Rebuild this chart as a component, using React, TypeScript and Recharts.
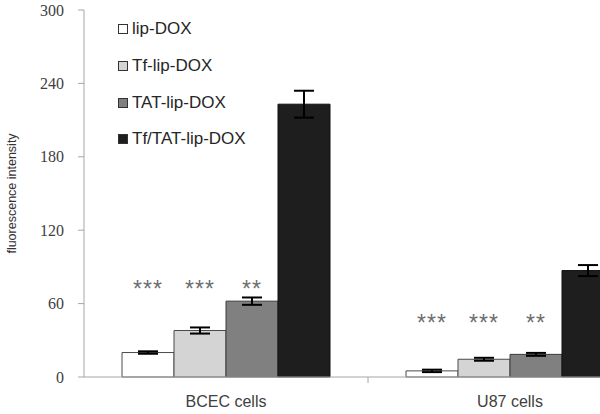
import React from "react";
import { BarChart, Bar, XAxis, YAxis, ErrorBar, Legend, LabelList } from "recharts";

const categories = ["BCEC cells", "U87 cells"];
const lipDox = [20, 5];
const lipDoxErr = [1, 1];
const tfLipDox = [38, 14.5];
const tfLipDoxErr = [2.5, 1.2];
const tatLipDox = [62, 18.5];
const tatLipDoxErr = [3, 1.2];
const tfTatLipDox = [223, 87];
const tfTatLipDoxErr = [11, 4.5];
const sigLipDox = ["***", "***"];
const sigTfLipDox = ["***", "***"];
const sigTatLipDox = ["**", "**"];
const sigTfTatLipDox = ["", ""];
const sigLevel = [74, 47];
const yTicks = [0, 60, 120, 180, 240, 300];

const data = categories.map((c, i) => ({
  name: c,
  lip: lipDox[i],
  lipErr: lipDoxErr[i],
  tf: tfLipDox[i],
  tfErr: tfLipDoxErr[i],
  tat: tatLipDox[i],
  tatErr: tatLipDoxErr[i],
  tftat: tfTatLipDox[i],
  tftatErr: tfTatLipDoxErr[i],
}));

const series = [
  { key: "lip", name: "lip-DOX", fill: "#ffffff", stroke: "#4a4a4a", sig: sigLipDox },
  { key: "tf", name: "Tf-lip-DOX", fill: "#d4d4d4", stroke: "#4a4a4a", sig: sigTfLipDox },
  { key: "tat", name: "TAT-lip-DOX", fill: "#808080", stroke: "#3a3a3a", sig: sigTatLipDox },
  { key: "tftat", name: "Tf/TAT-lip-DOX", fill: "#1e1e1e", stroke: "#111111", sig: sigTfTatLipDox },
];

const makeStar = (sig: string[]) => (props: any) => {
  const { x, y, width, height, value, index } = props;
  const i = typeof index === "number" ? index : 0;
  const text = sig[i];
  if (!text || !value) return null;
  const pxPerUnit = Number(height) / Number(value);
  const baseline = Number(y) + Number(height);
  const sy = baseline - sigLevel[i] * pxPerUnit;
  return (
    <text
      x={Number(x) + Number(width) / 2}
      y={sy + 3}
      textAnchor="middle"
      dominantBaseline="central"
      fontFamily="Liberation Sans, Arial, sans-serif"
      fontSize={23}
      letterSpacing={1}
      fill="#6e6e6e"
    >
      {text}
    </text>
  );
};

const XTick = (props: any) => {
  const { x, y, payload } = props;
  const off = payload && typeof payload.offset === "number" ? payload.offset : 142;
  return (
    <g>
      <line x1={x + off} y1={y - 8} x2={x + off} y2={y - 2} stroke="#a6a6a6" />
      <text
        x={x}
        y={y + 22}
        textAnchor="middle"
        fontFamily="Liberation Sans, Arial, sans-serif"
        fontSize={16}
        fill="#404040"
      >
        {payload.value}
      </text>
    </g>
  );
};

const LegendContent = () => (
  <div style={{ position: "absolute", left: 0, top: 0, width: 220 }}>
    {series.map((s) => (
      <div
        key={s.key}
        style={{
          display: "flex",
          alignItems: "center",
          height: 36.7,
          fontFamily: "Liberation Sans, Arial, sans-serif",
          fontSize: 17,
          color: "#262626",
          whiteSpace: "nowrap",
        }}
      >
        <span
          style={{
            display: "inline-block",
            width: 8,
            height: 8,
            background: s.fill,
            border: "1px solid #333",
            marginRight: 4,
          }}
        />
        {s.name}
      </div>
    ))}
  </div>
);

export default function App() {
  return (
    <div style={{ position: "absolute", left: 0, top: 0, width: 600, height: 414, overflow: "hidden", background: "#fff" }}>
      <BarChart
        width={660}
        height={414}
        data={data}
        margin={{ top: 10, right: 8, left: 0, bottom: 0 }}
        barGap={0}
        barCategoryGap={38}
      >
        <XAxis
          dataKey="name"
          height={37}
          axisLine={{ stroke: "#a6a6a6" }}
          tickLine={false}
          tick={<XTick />}
          interval={0}
        />
        <YAxis
          width={84}
          domain={[0, 300]}
          ticks={yTicks}
          interval={0}
          axisLine={{ stroke: "#a6a6a6" }}
          tickLine={{ stroke: "#a6a6a6" }}
          tickSize={6}
          tickMargin={14}
          tick={{ fontFamily: "Liberation Serif, Times New Roman, serif", fontSize: 16, fill: "#404040" }}
          label={{
            value: "fluorescence intensity",
            angle: -90,
            position: "insideLeft",
            offset: 12,
            style: { textAnchor: "middle", fontFamily: "Liberation Sans, Arial, sans-serif", fontSize: 12.5, fill: "#333" },
          }}
        />
        <Legend
          layout="vertical"
          align="left"
          verticalAlign="top"
          content={<LegendContent />}
          wrapperStyle={{ position: "absolute", left: 118, top: 11, width: 0, height: 0, overflow: "visible" }}
        />
        {series.map((s) => (
          <Bar
            key={s.key}
            dataKey={s.key}
            name={s.name}
            fill={s.fill}
            stroke={s.stroke}
            strokeWidth={1}
            isAnimationActive={false}
          >
            <ErrorBar dataKey={s.key + "Err"} width={10} strokeWidth={2} stroke="#000" />
            <LabelList dataKey={s.key} content={makeStar(s.sig)} />
          </Bar>
        ))}
      </BarChart>
    </div>
  );
}
